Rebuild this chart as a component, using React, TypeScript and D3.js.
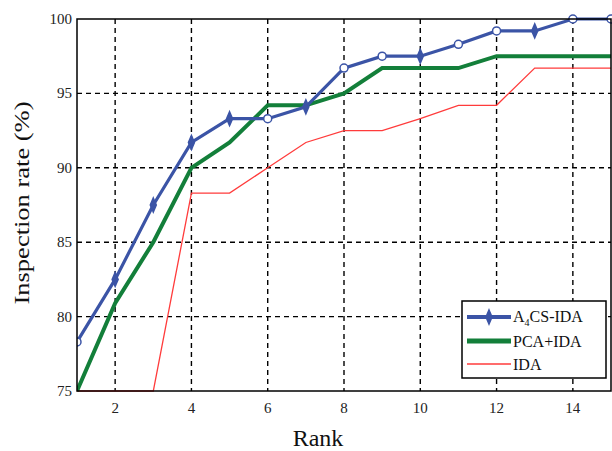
import React from "react";
import * as d3 from "d3";

const ranks = [1, 2, 3, 4, 5, 6, 7, 8, 9, 10, 11, 12, 13, 14, 15];
const a4csIda = [78.3, 82.5, 87.5, 91.7, 93.3, 93.3, 94.1, 96.7, 97.5, 97.5, 98.3, 99.2, 99.2, 100, 100];
const pcaIda = [75, 80.9, 85, 90, 91.7, 94.2, 94.2, 95, 96.7, 96.7, 96.7, 97.5, 97.5, 97.5, 97.5];
const ida = [75, 75, 75, 88.3, 88.3, 90, 91.7, 92.5, 92.5, 93.3, 94.2, 94.2, 96.7, 96.7, 96.7];
const xTicks = [2, 4, 6, 8, 10, 12, 14];
const yTicks = [75, 80, 85, 90, 95, 100];
const diamondIdx = [1, 2, 3, 4, 6, 9, 12];

const W = 612, H = 451;
const L = 77, R = 611, T = 19, B = 391;
const BLUE = "#3b54a6", GREEN = "#137f3a", RED = "#ff3b3b";
const serif = "'Liberation Serif', 'DejaVu Serif', serif";

export default function App() {
  const x = d3.scaleLinear().domain([1, 15]).range([L, R]);
  const y = d3.scaleLinear().domain([75, 100]).range([B, T]);
  const line = (vals: number[]) =>
    d3.line<number>().x((_, i) => x(ranks[i])).y((v) => y(v))(vals) || "";
  const diamond = (cx: number, cy: number) =>
    `M${cx},${cy - 7}L${cx + 3},${cy}L${cx},${cy + 7}L${cx - 3},${cy}Z`;

  return (
    <svg width={W} height={H} style={{ position: "absolute", left: 0, top: 0, background: "#fff" }}>
      <defs>
        <clipPath id="clip">
          <rect x={L} y={T - 8} width={R - L + 2} height={B - T + 10} />
        </clipPath>
      </defs>
      {/* grid */}
      {xTicks.map((t) => (
        <line key={"gx" + t} x1={x(t)} x2={x(t)} y1={T} y2={B} stroke="#000" strokeWidth={1.4} strokeDasharray="5,4" />
      ))}
      {yTicks.slice(1, -1).map((t) => (
        <line key={"gy" + t} x1={L} x2={R} y1={y(t)} y2={y(t)} stroke="#000" strokeWidth={1.4} strokeDasharray="5,4" />
      ))}
      {/* lines */}
      <g clipPath="url(#clip)">
        <path d={line(ida)} fill="none" stroke={RED} strokeWidth={1.3} />
        <path d={line(pcaIda)} fill="none" stroke={GREEN} strokeWidth={4} />
        <path d={line(a4csIda)} fill="none" stroke={BLUE} strokeWidth={3.2} />
        {a4csIda.map((v, i) =>
          diamondIdx.includes(i) ? (
            <path key={"m" + i} d={diamond(x(ranks[i]), y(v))} fill={BLUE} stroke={BLUE} strokeWidth={1.5} />
          ) : (
            <circle key={"m" + i} cx={x(ranks[i])} cy={y(v)} r={4} fill="#fff" stroke={BLUE} strokeWidth={1.5} />
          )
        )}
      </g>
      {/* frame */}
      <rect x={L} y={T} width={R - L} height={B - T} fill="none" stroke="#000" strokeWidth={1.5} />
      {/* tick labels */}
      {xTicks.map((t) => (
        <text key={"tx" + t} x={x(t)} y={B + 22} textAnchor="middle" fontFamily={serif} fontSize={15} fill="#222">
          {t}
        </text>
      ))}
      {yTicks.map((t) => (
        <text key={"ty" + t} x={L - 5} y={y(t) + 5} textAnchor="end" fontFamily={serif} fontSize={15} fill="#222">
          {t}
        </text>
      ))}
      <text x={318} y={446} textAnchor="middle" fontFamily={serif} fontSize={24} fill="#111">
        Rank
      </text>
      <text
        transform={`translate(29,203) rotate(-90)`}
        textAnchor="middle"
        fontFamily={serif}
        fontSize={22}
        textLength={203}
        lengthAdjust="spacingAndGlyphs"
        fill="#111"
      >
        Inspection rate (%)
      </text>
      {/* legend */}
      <g>
        <rect x={462} y={301} width={144} height={77} fill="#fff" stroke="#000" strokeWidth={1.5} />
        <line x1={467} x2={511} y1={317} y2={317} stroke={BLUE} strokeWidth={4} />
        <path d={diamond(489, 317)} fill={BLUE} stroke={BLUE} strokeWidth={1.5} />
        <text x={513} y={322} fontFamily={serif} fontSize={16} fill="#111">
          A<tspan fontSize={10} dy={4}>4</tspan>
          <tspan dy={-4}>CS-IDA</tspan>
        </text>
        <line x1={467} x2={511} y1={341} y2={341} stroke={GREEN} strokeWidth={5} />
        <text x={513} y={347} fontFamily={serif} fontSize={16} fill="#111">
          PCA+IDA
        </text>
        <line x1={467} x2={511} y1={364} y2={364} stroke={RED} strokeWidth={1.3} />
        <text x={513} y={370} fontFamily={serif} fontSize={16} fill="#111">
          IDA
        </text>
      </g>
    </svg>
  );
}
